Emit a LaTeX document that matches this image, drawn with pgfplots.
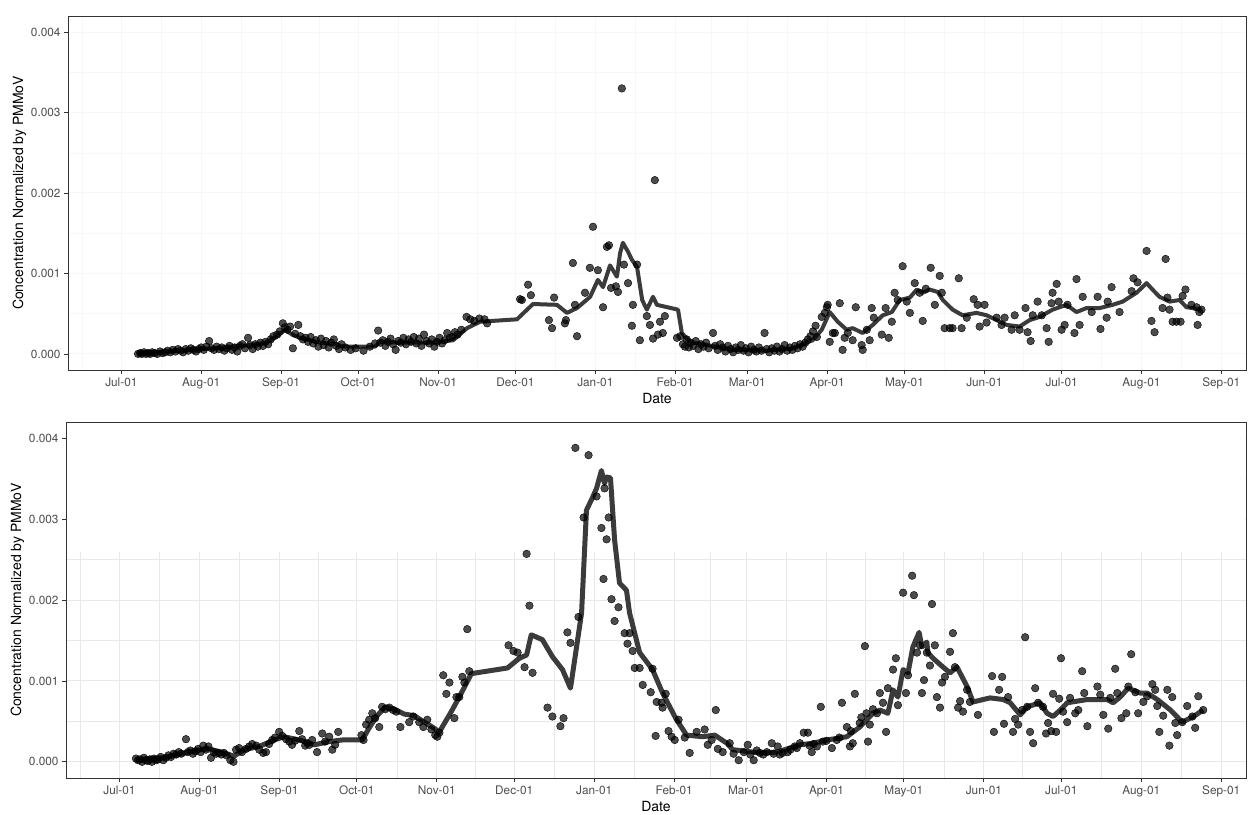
\documentclass[border=0pt]{standalone}
\usepackage{fontspec}
\setmainfont{TeX Gyre Heros}
\usepackage{pgfplots}
\usepackage{pgfplotstable}
\pgfplotsset{compat=1.18}
\definecolor{framec}{gray}{0.2}
\definecolor{ticklab}{gray}{0.3}
\definecolor{gridbot}{gray}{0.91}
\definecolor{gridtop}{gray}{0.97}
\definecolor{linec}{gray}{0.23}

\pgfplotstableread{
x y
6.5 0.00e-3
7.3 0.01e-3
8.0 0.00e-3
8.8 0.02e-3
9.6 0.00e-3
10.4 0.01e-3
11.2 0.00e-3
12.0 0.02e-3
13.0 0.01e-3
14.0 0.00e-3
15.0 0.03e-3
16.0 0.01e-3
17.0 0.02e-3
18.0 0.04e-3
19.0 0.02e-3
20.0 0.05e-3
21.0 0.03e-3
22.0 0.06e-3
23.0 0.04e-3
24.0 0.02e-3
25.0 0.06e-3
26.0 0.04e-3
27.0 0.07e-3
28.0 0.05e-3
29.0 0.03e-3
30.0 0.06e-3
31.0 0.08e-3
32.0 0.05e-3
33.0 0.09e-3
34.1 0.16e-3
35.0 0.07e-3
36.0 0.05e-3
37.0 0.09e-3
38.0 0.06e-3
39.0 0.08e-3
40.0 0.04e-3
41.0 0.07e-3
42.0 0.10e-3
43.0 0.05e-3
44.0 0.08e-3
45.0 0.03e-3
46.0 0.10e-3
47.0 0.12e-3
48.0 0.07e-3
49.2 0.20e-3
50.0 0.11e-3
51.0 0.06e-3
52.0 0.12e-3
53.0 0.09e-3
54.0 0.14e-3
55.0 0.10e-3
56.0 0.15e-3
57.0 0.12e-3
58.0 0.18e-3
59.0 0.22e-3
60.5 0.24e-3
61.5 0.28e-3
62.7 0.38e-3
63.5 0.33e-3
64.5 0.30e-3
65.5 0.34e-3
66.6 0.07e-3
67.5 0.25e-3
68.7 0.36e-3
69.5 0.22e-3
70.5 0.18e-3
71.5 0.20e-3
72.5 0.15e-3
73.5 0.21e-3
74.5 0.13e-3
75.5 0.17e-3
76.5 0.09e-3
77.5 0.19e-3
78.5 0.11e-3
79.5 0.16e-3
80.5 0.08e-3
81.5 0.14e-3
82.5 0.18e-3
83.5 0.10e-3
84.5 0.06e-3
85.5 0.12e-3
87.0 0.08e-3
89.0 0.05e-3
91.0 0.07e-3
94.0 0.04e-3
96.5 0.09e-3
98.5 0.13e-3
99.7 0.29e-3
100.5 0.14e-3
101.5 0.17e-3
102.5 0.10e-3
103.5 0.15e-3
104.5 0.19e-3
105.5 0.12e-3
106.5 0.05e-3
107.5 0.16e-3
108.5 0.14e-3
109.5 0.20e-3
110.5 0.12e-3
111.5 0.18e-3
112.5 0.15e-3
113.5 0.21e-3
114.5 0.13e-3
115.5 0.19e-3
116.5 0.10e-3
117.5 0.24e-3
118.5 0.16e-3
119.5 0.13e-3
120.5 0.18e-3
121.5 0.09e-3
122.5 0.15e-3
123.5 0.20e-3
124.5 0.13e-3
125.5 0.17e-3
126.5 0.26e-3
127.5 0.20e-3
128.5 0.21e-3
129.5 0.27e-3
130.5 0.24e-3
132.0 0.30e-3
134.0 0.46e-3
135.5 0.43e-3
137.0 0.41e-3
139.0 0.44e-3
141.0 0.43e-3
142.0 0.38e-3
154.8 0.68e-3
155.5 0.67e-3
157.9 0.86e-3
159.0 0.73e-3
166.0 0.42e-3
167.2 0.32e-3
168.0 0.70e-3
172.2 0.38e-3
172.6 0.42e-3
175.3 1.13e-3
176.1 0.61e-3
176.9 0.22e-3
180.0 0.76e-3
181.9 1.07e-3
183.1 1.58e-3
185.0 1.04e-3
187.0 0.58e-3
188.5 1.33e-3
189.3 1.35e-3
190.1 0.82e-3
192.0 0.84e-3
192.8 0.77e-3
194.3 3.30e-3
195.1 1.11e-3
196.7 0.88e-3
198.2 0.35e-3
198.6 0.61e-3
200.2 1.11e-3
201.3 0.17e-3
204.0 0.47e-3
205.2 0.36e-3
206.4 0.19e-3
207.1 2.16e-3
208.3 0.24e-3
209.1 0.40e-3
210.2 0.26e-3
211.0 0.47e-3
215.7 0.20e-3
217.0 0.22e-3
218.0 0.12e-3
218.8 0.09e-3
219.5 0.18e-3
220.3 0.08e-3
221.0 0.14e-3
222.0 0.10e-3
223.0 0.16e-3
224.0 0.06e-3
225.0 0.12e-3
226.0 0.09e-3
227.0 0.14e-3
228.0 0.07e-3
229.7 0.26e-3
230.5 0.10e-3
231.5 0.05e-3
232.5 0.12e-3
233.5 0.08e-3
234.5 0.03e-3
235.5 0.10e-3
236.5 0.06e-3
237.5 0.02e-3
238.5 0.08e-3
239.5 0.05e-3
240.5 0.11e-3
241.5 0.04e-3
242.5 0.07e-3
243.5 0.02e-3
244.5 0.09e-3
245.5 0.05e-3
246.5 0.03e-3
247.5 0.08e-3
248.5 0.04e-3
249.7 0.26e-3
250.5 0.06e-3
251.5 0.02e-3
252.5 0.07e-3
253.5 0.04e-3
254.5 0.09e-3
255.5 0.03e-3
256.5 0.06e-3
257.5 0.11e-3
258.5 0.04e-3
259.5 0.08e-3
260.5 0.05e-3
261.5 0.10e-3
262.5 0.07e-3
263.5 0.12e-3
264.5 0.09e-3
265.5 0.14e-3
266.5 0.18e-3
267.5 0.22e-3
268.5 0.28e-3
269.5 0.35e-3
270.0 0.21e-3
271.9 0.46e-3
273.1 0.51e-3
273.9 0.58e-3
274.2 0.61e-3
275.0 0.15e-3
276.2 0.26e-3
277.0 0.26e-3
278.9 0.63e-3
280.0 0.05e-3
280.8 0.20e-3
282.0 0.26e-3
283.9 0.17e-3
285.1 0.58e-3
287.4 0.11e-3
287.8 0.05e-3
289.4 0.30e-3
290.5 0.17e-3
291.3 0.57e-3
292.1 0.45e-3
295.2 0.24e-3
296.7 0.57e-3
297.9 0.20e-3
299.1 0.40e-3
300.2 0.76e-3
301.4 0.67e-3
303.3 1.09e-3
304.9 0.65e-3
306.1 0.51e-3
308.0 0.88e-3
309.9 0.76e-3
311.1 0.41e-3
312.3 0.81e-3
314.2 1.07e-3
315.8 0.61e-3
317.7 0.97e-3
318.5 0.76e-3
319.6 0.32e-3
321.6 0.32e-3
322.7 0.32e-3
325.1 0.94e-3
326.2 0.32e-3
328.2 0.45e-3
330.9 0.68e-3
332.4 0.61e-3
333.2 0.34e-3
335.1 0.61e-3
335.9 0.39e-3
339.8 0.45e-3
341.7 0.36e-3
342.9 0.45e-3
345.6 0.30e-3
346.8 0.48e-3
348.7 0.30e-3
351.0 0.57e-3
351.8 0.27e-3
353.0 0.16e-3
353.8 0.48e-3
355.7 0.65e-3
357.3 0.48e-3
359.2 0.32e-3
360.0 0.15e-3
361.1 0.63e-3
361.5 0.76e-3
363.1 0.87e-3
363.9 0.65e-3
365.0 0.30e-3
366.2 0.36e-3
367.3 0.61e-3
370.0 0.26e-3
370.8 0.93e-3
372.0 0.36e-3
373.2 0.71e-3
376.7 0.52e-3
379.0 0.71e-3
380.1 0.31e-3
382.5 0.45e-3
382.9 0.65e-3
384.4 0.83e-3
387.5 0.52e-3
392.2 0.78e-3
392.9 0.94e-3
394.5 0.89e-3
398.0 1.28e-3
399.9 0.41e-3
401.1 0.27e-3
404.2 0.57e-3
405.4 1.18e-3
406.1 0.70e-3
406.9 0.55e-3
408.1 0.40e-3
409.6 0.40e-3
411.2 0.40e-3
412.0 0.72e-3
413.1 0.80e-3
415.4 0.61e-3
417.4 0.58e-3
417.8 0.36e-3
418.5 0.52e-3
419.3 0.55e-3
}\toppts

\pgfplotstableread{
x y
6.2 0.01e-3
15.1 0.02e-3
22.9 0.04e-3
30.6 0.06e-3
36.5 0.07e-3
42.3 0.09e-3
50.0 0.11e-3
55.9 0.14e-3
59.7 0.20e-3
63.6 0.30e-3
66.3 0.24e-3
69.4 0.20e-3
73.3 0.17e-3
77.2 0.14e-3
83.0 0.12e-3
86.1 0.09e-3
98.5 0.09e-3
100.5 0.15e-3
108.2 0.14e-3
121.0 0.14e-3
128.8 0.17e-3
134.2 0.32e-3
139.3 0.40e-3
153.6 0.43e-3
159.8 0.62e-3
169.1 0.61e-3
173.0 0.51e-3
176.9 0.57e-3
182.0 0.71e-3
185.0 0.92e-3
187.0 0.83e-3
189.7 1.10e-3
192.4 0.96e-3
193.6 1.25e-3
194.7 1.38e-3
196.7 1.27e-3
198.2 1.17e-3
200.2 1.08e-3
202.2 0.67e-3
204.0 0.55e-3
206.4 0.71e-3
207.9 0.61e-3
216.1 0.55e-3
217.6 0.26e-3
220.7 0.15e-3
227.3 0.11e-3
237.4 0.05e-3
250.6 0.04e-3
260.7 0.07e-3
268.4 0.17e-3
271.9 0.30e-3
275.0 0.52e-3
278.1 0.40e-3
281.6 0.30e-3
283.9 0.32e-3
287.8 0.26e-3
291.7 0.36e-3
295.6 0.48e-3
299.1 0.52e-3
302.2 0.67e-3
306.1 0.70e-3
308.8 0.80e-3
311.1 0.76e-3
313.8 0.80e-3
316.9 0.77e-3
318.9 0.67e-3
322.7 0.55e-3
326.6 0.48e-3
332.0 0.51e-3
335.9 0.48e-3
339.8 0.42e-3
343.7 0.36e-3
348.7 0.34e-3
352.6 0.42e-3
356.5 0.46e-3
361.5 0.55e-3
366.9 0.61e-3
370.8 0.52e-3
374.7 0.57e-3
379.8 0.57e-3
384.8 0.61e-3
388.7 0.65e-3
394.1 0.76e-3
398.0 0.88e-3
400.3 0.80e-3
403.0 0.71e-3
406.9 0.65e-3
410.8 0.67e-3
413.5 0.58e-3
415.8 0.57e-3
419.3 0.55e-3
}\topline

\pgfplotstableread{
x y
6.4 0.04e-3
7.2 0.02e-3
8.0 0.03e-3
8.8 0.00e-3
9.5 0.05e-3
10.3 0.02e-3
11.0 0.01e-3
11.8 0.03e-3
12.6 0.00e-3
13.4 0.04e-3
14.2 0.02e-3
15.0 0.03e-3
16.0 0.06e-3
17.0 0.02e-3
18.0 0.05e-3
19.0 0.08e-3
20.0 0.06e-3
21.0 0.10e-3
22.0 0.09e-3
23.0 0.12e-3
24.0 0.10e-3
25.8 0.28e-3
26.5 0.12e-3
27.5 0.14e-3
28.5 0.10e-3
29.5 0.13e-3
30.5 0.16e-3
31.5 0.12e-3
32.5 0.20e-3
33.5 0.15e-3
34.5 0.19e-3
35.5 0.05e-3
36.5 0.12e-3
37.5 0.10e-3
38.5 0.11e-3
39.5 0.09e-3
40.5 0.11e-3
41.5 0.08e-3
43.0 0.02e-3
44.2 0.00e-3
45.2 0.15e-3
46.4 0.17e-3
47.5 0.12e-3
49.1 0.16e-3
50.3 0.19e-3
51.5 0.22e-3
53.0 0.20e-3
54.2 0.15e-3
55.7 0.11e-3
56.8 0.12e-3
58.0 0.22e-3
59.2 0.27e-3
60.3 0.30e-3
61.9 0.37e-3
63.1 0.32e-3
64.6 0.28e-3
65.8 0.25e-3
66.9 0.21e-3
68.1 0.26e-3
69.7 0.38e-3
70.8 0.28e-3
72.0 0.20e-3
72.8 0.23e-3
73.6 0.21e-3
74.7 0.27e-3
76.6 0.12e-3
78.6 0.35e-3
79.7 0.25e-3
81.3 0.31e-3
82.5 0.15e-3
83.6 0.21e-3
84.8 0.37e-3
93.8 0.33e-3
94.6 0.27e-3
95.6 0.46e-3
96.8 0.52e-3
98.0 0.60e-3
99.1 0.54e-3
100.7 0.43e-3
101.8 0.68e-3
103.0 0.65e-3
104.6 0.67e-3
106.1 0.64e-3
107.3 0.62e-3
108.9 0.43e-3
112.3 0.49e-3
113.9 0.56e-3
116.2 0.49e-3
117.8 0.43e-3
119.3 0.52e-3
120.9 0.40e-3
122.4 0.33e-3
123.2 0.31e-3
124.0 0.36e-3
125.5 1.07e-3
126.7 0.84e-3
127.9 0.98e-3
129.8 0.54e-3
130.6 0.80e-3
131.7 0.80e-3
132.9 1.05e-3
133.7 0.98e-3
134.8 1.64e-3
135.6 1.12e-3
150.8 1.44e-3
152.7 1.37e-3
154.3 1.35e-3
157.0 1.17e-3
157.8 2.57e-3
158.9 1.93e-3
160.1 1.10e-3
165.9 0.67e-3
167.8 0.56e-3
170.9 0.44e-3
172.1 0.54e-3
173.6 1.60e-3
174.8 1.47e-3
176.7 3.88e-3
177.9 1.79e-3
179.9 3.02e-3
181.8 3.79e-3
184.9 3.28e-3
186.8 2.89e-3
187.6 2.26e-3
188.0 3.38e-3
188.8 2.75e-3
189.6 3.02e-3
190.7 2.01e-3
191.9 1.74e-3
193.4 1.91e-3
195.8 1.59e-3
196.9 1.46e-3
197.7 1.59e-3
198.9 1.37e-3
199.7 1.16e-3
201.6 1.16e-3
202.8 0.95e-3
205.9 0.86e-3
206.6 1.15e-3
207.8 0.32e-3
208.2 0.74e-3
210.1 0.73e-3
210.5 0.67e-3
211.7 0.84e-3
212.8 0.38e-3
214.0 0.31e-3
215.2 0.27e-3
216.7 0.52e-3
219.1 0.30e-3
221.0 0.11e-3
223.7 0.37e-3
226.8 0.40e-3
228.0 0.21e-3
229.5 0.27e-3
231.1 0.64e-3
231.9 0.16e-3
233.8 0.12e-3
236.5 0.23e-3
238.0 0.10e-3
240.0 0.02e-3
242.0 0.12e-3
243.5 0.21e-3
244.5 0.09e-3
245.8 0.02e-3
247.0 0.14e-3
248.2 0.11e-3
249.5 0.09e-3
250.9 0.12e-3
252.8 0.23e-3
253.5 0.10e-3
255.1 0.19e-3
255.9 0.09e-3
257.0 0.11e-3
259.0 0.12e-3
260.0 0.15e-3
261.7 0.19e-3
262.5 0.17e-3
263.7 0.23e-3
265.2 0.36e-3
266.8 0.36e-3
267.5 0.20e-3
268.3 0.12e-3
269.0 0.22e-3
270.3 0.19e-3
271.8 0.68e-3
272.6 0.25e-3
274.0 0.26e-3
276.1 0.17e-3
278.0 0.27e-3
279.0 0.30e-3
280.0 0.73e-3
281.9 0.43e-3
283.1 0.19e-3
283.5 0.38e-3
284.2 0.23e-3
285.0 0.84e-3
286.9 0.48e-3
287.5 0.55e-3
288.9 1.43e-3
289.5 0.60e-3
290.1 0.25e-3
290.8 0.46e-3
292.0 0.65e-3
293.6 0.60e-3
294.7 0.85e-3
295.9 0.73e-3
297.1 0.37e-3
297.8 0.91e-3
299.8 1.14e-3
300.9 1.28e-3
301.7 0.70e-3
303.7 2.09e-3
304.8 0.85e-3
305.6 1.07e-3
307.2 2.30e-3
307.9 2.06e-3
309.1 1.35e-3
310.2 1.44e-3
311.0 0.85e-3
311.8 1.01e-3
312.9 1.35e-3
314.1 1.19e-3
314.9 1.95e-3
316.0 1.44e-3
316.8 0.80e-3
318.0 0.67e-3
318.8 0.98e-3
319.9 1.05e-3
321.9 1.36e-3
323.0 1.59e-3
323.8 1.17e-3
325.0 0.67e-3
325.8 0.75e-3
326.9 0.62e-3
328.5 0.89e-3
329.6 0.74e-3
332.7 0.58e-3
338.2 1.06e-3
338.9 0.37e-3
340.9 0.89e-3
342.1 1.05e-3
342.8 0.47e-3
344.4 0.80e-3
346.3 0.37e-3
347.1 0.53e-3
348.3 0.46e-3
349.8 0.64e-3
351.0 1.54e-3
351.8 0.68e-3
352.9 0.37e-3
354.1 0.23e-3
354.9 0.91e-3
356.0 0.73e-3
357.9 0.68e-3
359.1 0.35e-3
359.9 0.48e-3
361.1 0.38e-3
361.8 0.84e-3
363.0 0.37e-3
364.2 0.78e-3
364.9 1.28e-3
365.7 0.62e-3
367.3 0.49e-3
368.4 0.79e-3
370.4 0.60e-3
371.6 0.64e-3
373.1 1.12e-3
373.9 0.85e-3
375.1 0.44e-3
379.0 0.93e-3
380.1 0.83e-3
381.3 0.58e-3
383.2 0.41e-3
384.0 0.79e-3
385.9 1.15e-3
386.7 0.85e-3
388.3 0.54e-3
390.2 0.60e-3
391.0 0.93e-3
392.1 1.33e-3
393.7 0.86e-3
394.8 0.60e-3
396.8 0.74e-3
398.3 0.81e-3
400.3 0.96e-3
401.4 0.89e-3
402.2 0.69e-3
403.0 0.37e-3
404.5 0.57e-3
406.1 0.89e-3
406.9 0.20e-3
408.0 0.80e-3
409.2 0.48e-3
409.9 0.33e-3
411.9 0.49e-3
413.8 0.69e-3
415.8 0.56e-3
416.9 0.42e-3
418.1 0.81e-3
420.0 0.64e-3
}\botpts

\pgfplotstableread{
x y
6.4 0.02e-3
11.4 0.04e-3
17.3 0.05e-3
23.1 0.09e-3
28.9 0.14e-3
34.7 0.16e-3
40.6 0.11e-3
44.4 0.07e-3
48.3 0.15e-3
54.2 0.19e-3
60.0 0.27e-3
63.8 0.31e-3
69.7 0.27e-3
75.5 0.21e-3
81.3 0.25e-3
86.3 0.27e-3
94.1 0.27e-3
96.8 0.42e-3
99.9 0.57e-3
103.0 0.68e-3
106.5 0.65e-3
110.4 0.59e-3
114.3 0.57e-3
118.2 0.49e-3
121.3 0.43e-3
124.0 0.37e-3
128.6 0.62e-3
131.7 0.80e-3
136.4 1.09e-3
150.4 1.16e-3
155.0 1.28e-3
157.8 1.32e-3
159.6 1.57e-3
163.9 1.51e-3
167.8 1.30e-3
171.7 1.14e-3
174.8 0.91e-3
179.1 1.84e-3
181.0 3.11e-3
183.4 3.27e-3
184.9 3.38e-3
186.8 3.60e-3
188.0 3.44e-3
188.8 3.52e-3
190.3 3.51e-3
191.9 2.74e-3
193.8 2.21e-3
196.5 2.12e-3
197.7 1.84e-3
201.6 1.35e-3
206.6 1.14e-3
210.5 0.85e-3
215.9 0.52e-3
219.8 0.33e-3
226.0 0.31e-3
230.7 0.33e-3
235.4 0.23e-3
237.7 0.15e-3
248.2 0.11e-3
254.8 0.12e-3
263.7 0.21e-3
268.8 0.23e-3
274.2 0.27e-3
281.9 0.31e-3
286.9 0.43e-3
292.0 0.60e-3
294.7 0.64e-3
297.8 0.60e-3
299.8 0.89e-3
301.7 0.80e-3
303.7 1.14e-3
305.6 1.10e-3
307.5 1.42e-3
309.9 1.60e-3
311.0 1.42e-3
312.9 1.48e-3
313.3 1.35e-3
315.3 1.28e-3
319.2 1.17e-3
321.9 1.10e-3
324.6 1.17e-3
328.5 0.93e-3
330.8 0.74e-3
337.4 0.79e-3
342.5 0.77e-3
345.2 0.73e-3
349.1 0.58e-3
351.8 0.68e-3
356.8 0.73e-3
359.5 0.60e-3
361.8 0.56e-3
364.6 0.64e-3
367.3 0.73e-3
375.1 0.77e-3
382.8 0.77e-3
385.1 0.73e-3
387.8 0.80e-3
390.9 0.91e-3
395.6 0.85e-3
398.3 0.85e-3
402.2 0.77e-3
407.3 0.64e-3
411.9 0.49e-3
416.2 0.56e-3
420.0 0.64e-3
}\botline

\pgfplotsset{
  panel/.style={
    scale only axis,
    xmin=-20.7, xmax=436.6, ymin=-0.0002, ymax=0.0042,
    xtick={0,31,62,92,123,153,184,215,243,274,304,335,365,396,427},
    xticklabels={Jul-01,Aug-01,Sep-01,Oct-01,Nov-01,Dec-01,Jan-01,Feb-01,Mar-01,Apr-01,May-01,Jun-01,Jul-01,Aug-01,Sep-01},
    minor xtick={-15,15.5,46.5,77,107.5,138,168.5,199.5,229,258.5,289,319.5,350,380.5,411.5},
    ytick={0,0.001,0.002,0.003,0.004},
    yticklabels={0.000,0.001,0.002,0.003,0.004},
    minor ytick={0.0005,0.0015,0.0025,0.0035},
    scaled y ticks=false,
    tick align=outside, tick pos=left,
    major tick length=4pt, minor tick length=0pt,
    major tick style={framec, line width=0.8pt},
    axis line style={framec, line width=0.9pt},
    grid=both,
    ticklabel style={font=\fontsize{11.8}{13}\selectfont, text=ticklab},
    label style={font=\fontsize{14}{16}\selectfont, text=black},
    xlabel={Date},
    xlabel style={yshift=2.5pt},
    ylabel={Concentration Normalized by PMMoV},
    ylabel style={yshift=-2pt},
    clip=true,
  },
  pts/.style={only marks, mark=*, mark size=3.8pt,
    mark options={draw=none, fill=black, fill opacity=0.7}},
}

\begin{document}
\begin{tikzpicture}
\useasboundingbox (0,0) rectangle (1249pt,814pt);
\begin{axis}[panel, at={(68pt,444pt)}, anchor=south west,
  width=1178pt, height=354pt,
  major grid style={gridtop, line width=1pt},
  minor grid style={gridtop, line width=0.5pt}]
\addplot[no marks, line width=4pt, color=linec, line join=round] table[x=x,y=y] {\topline};
\addplot[pts] table[x=x,y=y] {\toppts};
\end{axis}
\begin{axis}[panel, at={(66pt,36pt)}, anchor=south west,
  width=1180pt, height=356pt,
  major grid style={gridbot, line width=1pt},
  minor grid style={gridbot, line width=0.5pt}]
\fill[white] (rel axis cs:0.0006,0.634) rectangle (rel axis cs:0.9994,0.9985);
\addplot[no marks, line width=5pt, color=linec, line join=round] table[x=x,y=y] {\botline};
\addplot[pts] table[x=x,y=y] {\botpts};
\end{axis}
\end{tikzpicture}
\end{document}
